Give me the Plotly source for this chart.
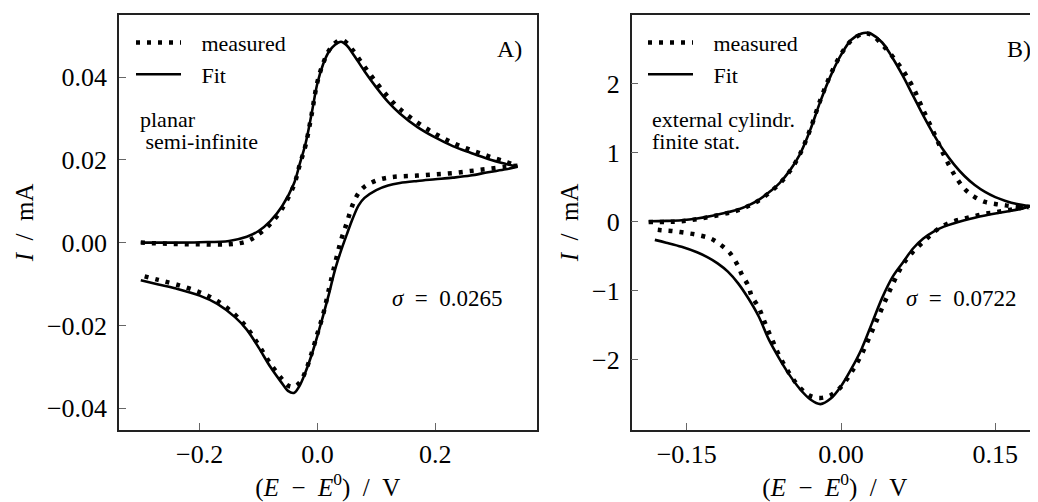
import plotly.graph_objects as go

SW, SH = 1038, 502          # browser window
OFF = 8                     # default body margin of the page
W, H = SW - OFF, SH - OFF   # figure size so that it fills the window exactly

# ---------------- Panel A data (planar semi-infinite) ----------------
a_fwd_e = [-0.30, -0.25, -0.20, -0.15, -0.12, -0.10, -0.08, -0.06, -0.04, -0.03, -0.02, -0.01,
           0.00, 0.01, 0.02, 0.03, 0.04, 0.05, 0.06, 0.08, 0.10, 0.12, 0.14, 0.17, 0.20, 0.23,
           0.26, 0.29, 0.32, 0.34]
a_fit_fwd = [0.0000, 0.0000, 0.0001, 0.0004, 0.0014, 0.0028, 0.0052, 0.0088, 0.0142, 0.0190,
             0.0240, 0.0310, 0.0385, 0.0432, 0.0462, 0.0478, 0.0485, 0.0476, 0.0457, 0.0414,
             0.0375, 0.0340, 0.0312, 0.0279, 0.0254, 0.0233, 0.0217, 0.0202, 0.0190, 0.0183]
a_meas_fwd = [0.0000, -0.0003, -0.0004, -0.0004, 0.0003, 0.0020, 0.0045, 0.0082, 0.0138, 0.0188,
              0.0236, 0.0308, 0.0388, 0.0434, 0.0465, 0.0482, 0.0490, 0.0482, 0.0465, 0.0425,
              0.0387, 0.0352, 0.0323, 0.0290, 0.0263, 0.0241, 0.0224, 0.0209, 0.0195, 0.0186]
a_rev_e = [0.34, 0.32, 0.29, 0.26, 0.23, 0.20, 0.17, 0.14, 0.12, 0.10, 0.08, 0.07, 0.06, 0.05,
           0.04, 0.03, 0.02, 0.01, 0.00, -0.01, -0.02, -0.03, -0.04, -0.05, -0.06, -0.08, -0.10,
           -0.12, -0.14, -0.17, -0.20, -0.24, -0.27, -0.30]
a_fit_rev = [0.0183, 0.0177, 0.0170, 0.0162, 0.0157, 0.0153, 0.0149, 0.0144, 0.0138, 0.0127,
             0.0108, 0.0090, 0.0058, 0.0020, -0.0020, -0.0065, -0.0122, -0.0175, -0.0225,
             -0.0272, -0.0312, -0.0345, -0.0363, -0.0358, -0.0340, -0.0300, -0.0253, -0.0210,
             -0.0180, -0.0148, -0.0128, -0.0111, -0.0101, -0.0091]
a_meas_rev = [0.0186, 0.0183, 0.0178, 0.0173, 0.0168, 0.0165, 0.0162, 0.0160, 0.0157, 0.0150,
              0.0135, 0.0120, 0.0092, 0.0048, 0.0005, -0.0050, -0.0110, -0.0172, -0.0220,
              -0.0268, -0.0310, -0.0338, -0.0348, -0.0345, -0.0330, -0.0292, -0.0247, -0.0205,
              -0.0174, -0.0141, -0.0120, -0.0101, -0.0090, -0.0079]

# ---------------- Panel B data (external cylindrical, finite stat.) ----------------
b_fwd_e = [-0.187, -0.17, -0.155, -0.14, -0.125, -0.11, -0.10, -0.09, -0.08, -0.07, -0.06, -0.05,
           -0.04, -0.03, -0.02, -0.01, 0.00, 0.01, 0.02, 0.025, 0.03, 0.04, 0.05, 0.06, 0.07,
           0.08, 0.09, 0.10, 0.11, 0.12, 0.13, 0.14, 0.15, 0.16, 0.17, 0.184]
b_fit_fwd = [0.01, 0.015, 0.025, 0.05, 0.09, 0.14, 0.18, 0.24, 0.32, 0.43, 0.56, 0.74, 0.98,
             1.33, 1.75, 2.12, 2.42, 2.64, 2.73, 2.74, 2.72, 2.60, 2.38, 2.12, 1.83, 1.54, 1.27,
             1.03, 0.83, 0.665, 0.535, 0.435, 0.36, 0.305, 0.262, 0.228]
b_meas_fwd = [0.0, 0.0, 0.01, 0.04, 0.08, 0.13, 0.17, 0.23, 0.31, 0.42, 0.55, 0.73, 0.98, 1.34,
              1.77, 2.14, 2.43, 2.63, 2.72, 2.73, 2.71, 2.57, 2.40, 2.20, 1.95, 1.62, 1.30, 0.97,
              0.69, 0.48, 0.36, 0.29, 0.26, 0.24, 0.22, 0.215]
b_fit_rev_e = [0.184, 0.17, 0.16, 0.15, 0.14, 0.13, 0.12, 0.11, 0.10, 0.09, 0.08, 0.07, 0.06,
               0.05, 0.04, 0.03, 0.02, 0.01, 0.00, -0.01, -0.02, -0.03, -0.04, -0.05, -0.06,
               -0.07, -0.08, -0.09, -0.10, -0.11, -0.12, -0.13, -0.14, -0.155, -0.17, -0.181]
b_fit_rev = [0.228, 0.175, 0.148, 0.122, 0.094, 0.062, 0.025, -0.018, -0.068, -0.14, -0.24,
             -0.385, -0.59, -0.80, -1.10, -1.47, -1.84, -2.13, -2.38, -2.56, -2.64, -2.57, -2.42,
             -2.22, -1.98, -1.71, -1.37, -1.11, -0.89, -0.72, -0.60, -0.51, -0.44, -0.36, -0.30,
             -0.26]
b_meas_rev_e = [0.180, 0.17, 0.16, 0.15, 0.14, 0.13, 0.12, 0.11, 0.10, 0.09, 0.08, 0.07, 0.06,
                0.05, 0.04, 0.03, 0.02, 0.01, 0.00, -0.01, -0.02, -0.03, -0.04, -0.05, -0.06,
                -0.066, -0.071, -0.0755, -0.080, -0.087, -0.09, -0.0965, -0.10, -0.108, -0.118,
                -0.127, -0.139, -0.152, -0.165, -0.175, -0.185]
b_meas_rev = [0.215, 0.19, 0.165, 0.14, 0.12, 0.085, 0.05, 0.01, -0.05, -0.15, -0.29, -0.43,
              -0.62, -0.91, -1.245, -1.59, -1.92, -2.18, -2.39, -2.51, -2.55, -2.52, -2.40, -2.20,
              -1.94, -1.74, -1.57, -1.405, -1.24, -1.07, -0.93, -0.76, -0.64, -0.45, -0.32, -0.24,
              -0.19, -0.157, -0.13, -0.119, -0.10]

# ---------------- ticks and labels ----------------
a_xticks = [-0.2, 0.0, 0.2]
a_xticktext = ["\u22120.2", "0.0", "0.2"]
a_yticks = [-0.04, -0.02, 0.0, 0.02, 0.04]
a_yticktext = ["\u22120.04", "\u22120.02", "0.00", "0.02", "0.04"]
b_xticks = [-0.15, 0.0, 0.15]
b_xticktext = ["\u22120.15", "0.00", "0.15"]
b_yticks = [-2, -1, 0, 1, 2]
b_yticktext = ["\u22122", "\u22121", "0", "1", "2"]
series_names = ["\u2002\u2009measured", "\u2002\u2009Fit"]
panel_labels = ["A)", "B)"]
model_labels = [["planar", "\u00a0semi-infinite"], ["external cylindr.", "finite stat."]]
sigma_values = ["0.0265", "0.0722"]

FONT = "Liberation Serif, Tinos, serif"
MEAS_LINE = dict(color="black", width=4.5, dash="4px,7px")
FIT_LINE = dict(color="black", width=2.6)


def px(s):
    """window pixel (from left) -> paper fraction"""
    return (s - OFF) / W


def py(s):
    """window pixel (from top) -> paper fraction"""
    return 1 - (s - OFF) / H


fig = go.Figure()
# Panel A
fig.add_trace(go.Scatter(x=a_fwd_e + a_rev_e, y=a_meas_fwd + a_meas_rev, mode="lines",
                         line=MEAS_LINE, line_shape="spline", name=series_names[0],
                         xaxis="x", yaxis="y", legend="legend"))
fig.add_trace(go.Scatter(x=a_fwd_e + a_rev_e, y=a_fit_fwd + a_fit_rev, mode="lines",
                         line=FIT_LINE, line_shape="spline", name=series_names[1],
                         xaxis="x", yaxis="y", legend="legend"))
# Panel B
fig.add_trace(go.Scatter(x=b_fwd_e + b_meas_rev_e, y=b_meas_fwd + b_meas_rev, mode="lines",
                         line=MEAS_LINE, line_shape="spline", name=series_names[0],
                         xaxis="x2", yaxis="y2", legend="legend2"))
fig.add_trace(go.Scatter(x=b_fwd_e + b_fit_rev_e, y=b_fit_fwd + b_fit_rev, mode="lines",
                         line=FIT_LINE, line_shape="spline", name=series_names[1],
                         xaxis="x2", yaxis="y2", legend="legend2"))

axis_common = dict(showgrid=False, zeroline=False, showline=True, linecolor="#222",
                   linewidth=1.5, ticks="inside", ticklen=7, tickwidth=1, tickcolor="#666",
                   tickfont=dict(family=FONT, size=26, color="black"))
ydom = [py(436), py(15)]
SP = "\u2002"
xtitle = "(<i>E</i>" + SP + "\u2212" + SP + "<i>E</i><sup>0</sup>)" + SP + "/" + SP + "V"
ytitle = "<i>I</i>" + SP + "/" + SP + "mA"
title_font = dict(family=FONT, size=25, color="black")

fig.update_layout(
    width=W, height=H, autosize=False,
    margin=dict(l=0, r=0, t=0, b=0),
    paper_bgcolor="white", plot_bgcolor="white",
    font=dict(family=FONT, color="black"),
    xaxis=dict(domain=[px(119), px(536.7)], anchor="y", range=[-0.337, 0.3725],
               tickvals=a_xticks, ticktext=a_xticktext, mirror=True,
               title=dict(text=xtitle, font=title_font, standoff=16), **axis_common),
    yaxis=dict(domain=ydom, anchor="x", range=[-0.04524, 0.055],
               tickvals=a_yticks, ticktext=a_yticktext, mirror=True, ticklabelstandoff=5,
               title=dict(text=ytitle, font=title_font, standoff=6), **axis_common),
    xaxis2=dict(domain=[px(631.7), 1.0], anchor="y2", range=[-0.2035, 0.1915],
                tickvals=b_xticks, ticktext=b_xticktext, mirror=True,
                title=dict(text=xtitle, font=title_font, standoff=16), **axis_common),
    yaxis2=dict(domain=ydom, anchor="x2", range=[-3.014, 3.0],
                tickvals=b_yticks, ticktext=b_yticktext, mirror=False, ticklabelstandoff=5,
                title=dict(text=ytitle, font=title_font, standoff=6), **axis_common),
    legend=dict(x=px(131), y=py(22), xanchor="left", yanchor="top",
                bgcolor="rgba(0,0,0,0)", font=dict(family=FONT, size=22),
                tracegroupgap=0, itemwidth=45),
    legend2=dict(x=px(643), y=py(22), xanchor="left", yanchor="top",
                 bgcolor="rgba(0,0,0,0)", font=dict(family=FONT, size=22),
                 tracegroupgap=0, itemwidth=45),
)

ann = []
ann.append(dict(text=panel_labels[0], x=px(509), y=py(50)))
ann.append(dict(text=panel_labels[1], x=px(1019), y=py(50)))
for a in ann:
    a.update(xref="paper", yref="paper", showarrow=False, xanchor="center", yanchor="middle",
             font=dict(family=FONT, size=24, color="black"))
for (lx, lines) in [(138, model_labels[0]), (650, model_labels[1])]:
    for t, yy in zip(lines, [121.5, 143.5]):
        ann.append(dict(text=t, x=px(lx), y=py(yy), xref="paper", yref="paper",
                        showarrow=False, xanchor="left", yanchor="middle",
                        font=dict(family=FONT, size=22, color="black")))
for (cx, val) in [(447, sigma_values[0]), (961, sigma_values[1])]:
    ann.append(dict(text="<i>\u03c3</i>\u2002=\u2002" + val, x=px(cx), y=py(303),
                    xref="paper", yref="paper", showarrow=False, xanchor="center",
                    yanchor="middle", font=dict(family=FONT, size=23, color="black")))
fig.update_layout(annotations=ann)

fig.write_html("out.html")
